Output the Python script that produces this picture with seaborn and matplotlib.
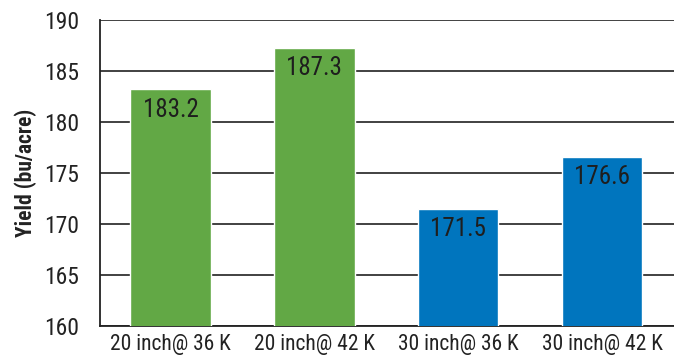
import matplotlib
matplotlib.use("Agg")
import matplotlib.pyplot as plt
import seaborn as sns
import pandas as pd
from matplotlib import font_manager

# Yield by row spacing and plant population
treatments = ["20 inch@ 36 K", "20 inch@ 42 K", "30 inch@ 36 K", "30 inch@ 42 K"]
yields = [183.2, 187.3, 171.5, 176.6]
spacing = ["20 inch", "20 inch", "30 inch", "30 inch"]
y_ticks = [160, 165, 170, 175, 180, 185, 190]

palette = {"20 inch": "#62A845", "30 inch": "#0075BE"}

sns.set_theme(style="white")
names = {f.name for f in font_manager.fontManager.ttflist}
family = "DejaVu Sans"
for cand in ["Roboto Condensed", "Liberation Sans Narrow", "Open Sans Condensed"]:
    if cand in names:
        family = cand
        break
plt.rcParams["font.family"] = [family, "DejaVu Sans"]
plt.rcParams["font.stretch"] = "condensed"

df = pd.DataFrame({"treatment": treatments, "yield": yields, "spacing": spacing})

fig = plt.figure(figsize=(6.74, 3.56), dpi=100)
ax = fig.add_axes([100 / 674, 30 / 356, 574 / 674, 306 / 356])

sns.barplot(data=df, x="treatment", y="yield", hue="spacing", palette=palette,
            dodge=False, width=0.56, saturation=1, legend=False, ax=ax, zorder=3)

ax.set_ylim(160, 190)
ax.set_xlim(-0.49, 3.5)
ax.set_yticks(y_ticks)
ax.yaxis.grid(True, color="#333333", linewidth=1.3, zorder=0)
ax.set_axisbelow(True)
for side in ["top", "right"]:
    ax.spines[side].set_visible(False)
for side in ["left", "bottom"]:
    ax.spines[side].set_color("#222222")
    ax.spines[side].set_linewidth(1.3)

ax.tick_params(axis="both", length=0, colors="#222222")
ax.tick_params(axis="y", labelsize=17, pad=15)
ax.tick_params(axis="x", labelsize=15.5, pad=6)
ax.set_xlabel("")
ax.set_ylabel("Yield (bu/acre)", fontsize=15.5, fontweight="bold", color="#222222", labelpad=5)

for i, v in enumerate(yields):
    ax.text(i, v - 2.0, f"{v:.1f}", ha="center", va="center",
            fontsize=18, color="#1e1e1e", zorder=5)

fig.savefig("out.png", dpi=100)
